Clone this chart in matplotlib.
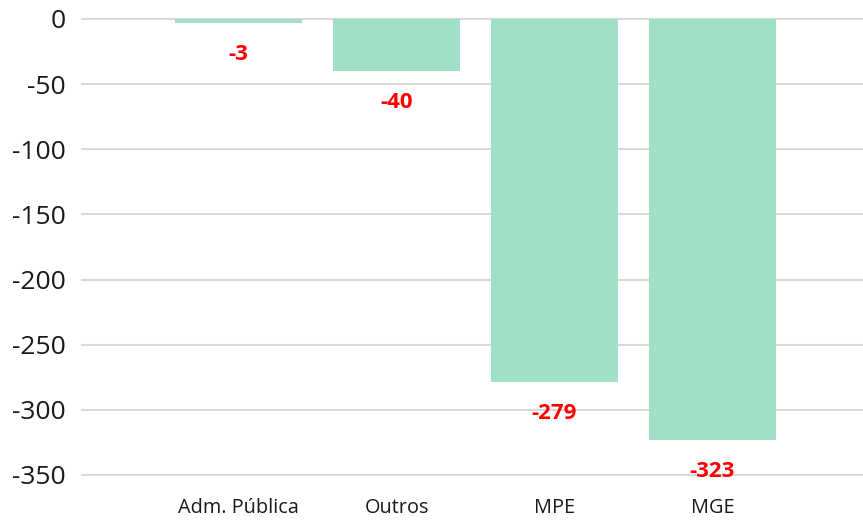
import matplotlib
matplotlib.use("Agg")
import matplotlib.pyplot as plt

categories = ["Adm. Pública", "Outros", "MPE", "MGE"]
values = [-3, -40, -279, -323]
yticks = [0, -50, -100, -150, -200, -250, -300, -350]

plt.rcParams['font.family'] = ['Open Sans', 'DejaVu Sans']

W, H = 863, 520
fig = plt.figure(figsize=(W / 100, H / 100), dpi=100)

ppu = (475 - 19) / 350.0
ylo, yhi = -355, 5
top_px = 19 - (yhi - 0) * ppu
bot_px = 475 + (ylo + 350) * -ppu
step = 158.0
x0px = 238.5
left_px, right_px = 81, 863
ax = fig.add_axes([left_px / W, 1 - bot_px / H, (right_px - left_px) / W, (bot_px - top_px) / H])

xs = list(range(len(categories)))
bars = ax.bar(xs, values, width=0.8, color="#a0e0c6", zorder=2)
ax.set_xlim((left_px - x0px) / step, (right_px - x0px) / step)
ax.set_ylim(ylo, yhi)

for x, v in zip(xs, values):
    ax.annotate(f"{v}", xy=(x, v), xytext=(0, -22.5), textcoords="offset points",
                ha="center", va="center", color="#ff0000", fontsize=16, fontweight="bold", zorder=3)

ax.set_yticks(yticks)
ax.set_yticklabels([str(t) for t in yticks])
ax.set_xticks(xs)
ax.set_xticklabels(categories)
ax.tick_params(axis="y", length=0, pad=11, labelsize=19, labelcolor="#1a1a1a")
ax.tick_params(axis="x", length=0, pad=12, labelsize=14.3, labelcolor="#1a1a1a")
ax.yaxis.grid(True, color="#d9d9d9", linewidth=1.5, zorder=0)
ax.set_axisbelow(True)
for s in ax.spines.values():
    s.set_visible(False)

fig.savefig("out.png", dpi=100)
